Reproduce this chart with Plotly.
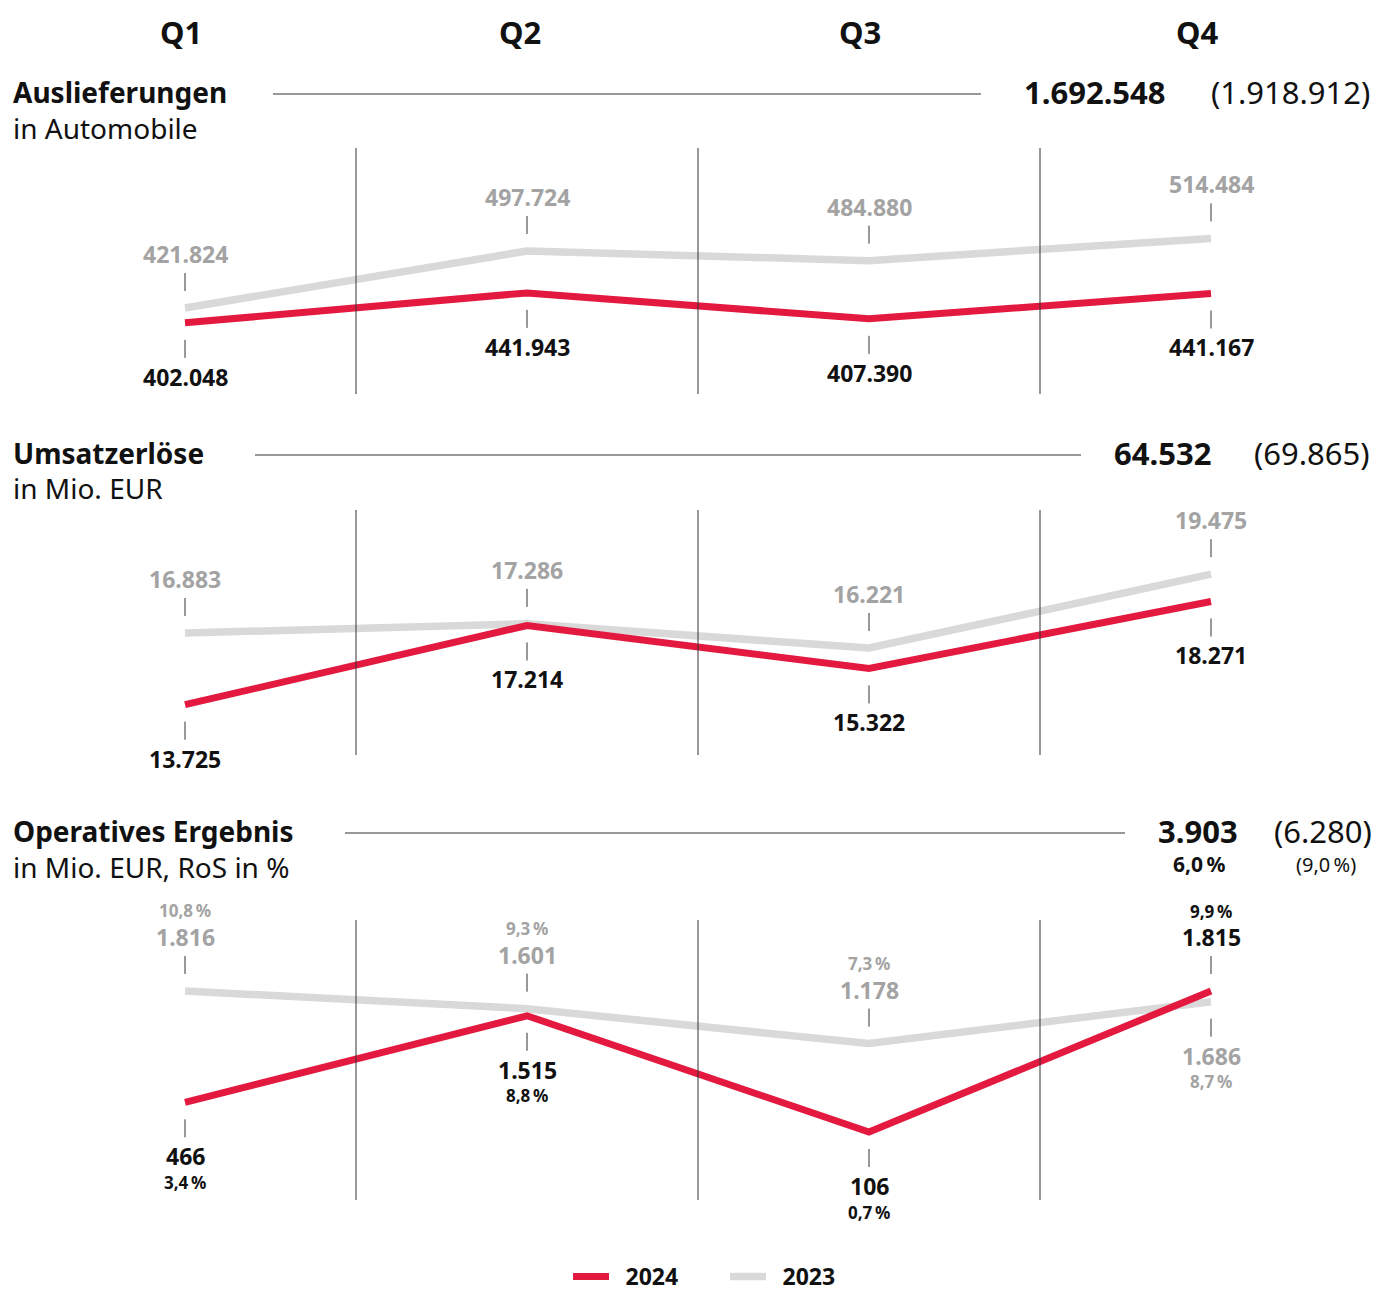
import plotly.graph_objects as go

W, H = 1376, 1298

# ---------------- data ----------------
quarters = ["Q1", "Q2", "Q3", "Q4"]

deliveries_2024 = [402048, 441943, 407390, 441167]
deliveries_2023 = [421824, 497724, 484880, 514484]
deliveries_total_2024 = 1692548
deliveries_total_2023 = 1918912

revenue_2024 = [13725, 17214, 15322, 18271]
revenue_2023 = [16883, 17286, 16221, 19475]
revenue_total_2024 = 64532
revenue_total_2023 = 69865

op_result_2024 = [466, 1515, 106, 1815]
op_result_2023 = [1816, 1601, 1178, 1686]
ros_2024 = [3.4, 8.8, 0.7, 9.9]
ros_2023 = [10.8, 9.3, 7.3, 8.7]
op_total_2024 = 3903
op_total_2023 = 6280
ros_total_2024 = 6.0
ros_total_2023 = 9.0

series_names = ["2024", "2023"]
panel_titles = ["Auslieferungen", "Umsatzerlöse", "Operatives Ergebnis"]
panel_units = ["in Automobile", "in Mio. EUR", "in Mio. EUR, RoS in %"]

# ---------------- style ----------------
RED = "#E4193F"
GREY = "#D9D9D9"
GREY_TXT = "#A3A3A3"
BLACK = "#111111"
LINE = "#333333"
FONT = "Noto Sans"


def de(v, dec=0):
    s = f"{v:,.{dec}f}"
    return s.replace(",", "X").replace(".", ",").replace("X", ".")


def pct(v):
    return de(v, 1) + "\u2009%"


def py(px):
    return 1 - px / H


def pxx(px):
    return px / W


panels = [
    dict(v24=deliveries_2024, v23=deliveries_2023, r24=None, r23=None,
         dom=(py(394), py(148)), rng=(307300, 634870),
         tot24=de(deliveries_total_2024), tot23="(" + de(deliveries_total_2023) + ")",
         head_y=92, unit_y=128, line_x=(273, 981), tot24_x=1168, tot23_x=1372),
    dict(v24=revenue_2024, v23=revenue_2023, r24=None, r23=None,
         dom=(py(755), py(510)), rng=(11509, 22302),
         tot24=de(revenue_total_2024), tot23="(" + de(revenue_total_2023) + ")",
         head_y=453, unit_y=488, line_x=(255, 1081), tot24_x=1213, tot23_x=1372),
    dict(v24=op_result_2024, v23=op_result_2023, r24=ros_2024, r23=ros_2023,
         dom=(py(1200), py(920)), rng=(-718, 2676),
         tot24=de(op_total_2024), tot23="(" + de(op_total_2023) + ")",
         head_y=831, unit_y=867, line_x=(345, 1125), tot24_x=1240, tot23_x=1374),
]

fig = go.Figure()
annotations = []
shapes = []
xs = list(range(len(quarters)))

for i, p in enumerate(panels):
    yname = "y" if i == 0 else f"y{i + 1}"
    fig.add_trace(go.Scatter(x=xs, y=p["v23"], mode="lines", name="\u2002" + series_names[1],
                             line=dict(color=GREY, width=7.5), yaxis=yname,
                             legendgroup="2023", showlegend=(i == 0), legendrank=2,
                             hoverinfo="skip"))
    fig.add_trace(go.Scatter(x=xs, y=p["v24"], mode="lines", name="\u2002" + series_names[0],
                             line=dict(color=RED, width=7), yaxis=yname,
                             legendgroup="2024", showlegend=(i == 0), legendrank=1,
                             hoverinfo="skip"))
    for k in range(len(quarters) - 1):
        shapes.append(dict(type="line", xref="x", yref=f"{yname} domain",
                           x0=k + 0.5, x1=k + 0.5, y0=0, y1=1,
                           line=dict(color=LINE, width=1)))
    for k in xs:
        v24, v23 = p["v24"][k], p["v23"][k]
        red_up = v24 > v23
        for val, ros, is24 in ((v24, p["r24"], True), (v23, p["r23"], False)):
            up = red_up if is24 else not red_up
            sgn = 1 if up else -1
            col = BLACK if is24 else GREY_TXT
            shapes.append(dict(type="line", xref="x", yref=yname, x0=k, x1=k,
                               ysizemode="pixel", yanchor=val,
                               y0=sgn * 17, y1=sgn * 35,
                               line=dict(color=LINE, width=1)))
            annotations.append(dict(x=k, y=val, xref="x", yref=yname, text=de(val),
                                    showarrow=False, yshift=sgn * 54,
                                    xanchor="center", yanchor="middle",
                                    font=dict(family=FONT, size=23, color=col, weight="bold")))
            if ros is not None:
                annotations.append(dict(x=k, y=val, xref="x", yref=yname, text=pct(ros[k]),
                                        showarrow=False, yshift=sgn * 80,
                                        xanchor="center", yanchor="middle",
                                        font=dict(family=FONT, size=17, color=col, weight="bold")))
    annotations.append(dict(x=pxx(11), y=py(p["head_y"]), xref="paper", yref="paper",
                            text=panel_titles[i], showarrow=False, xanchor="left", yanchor="middle",
                            font=dict(family=FONT, size=28, color=BLACK, weight="bold")))
    annotations.append(dict(x=pxx(11), y=py(p["unit_y"]), xref="paper", yref="paper",
                            text=panel_units[i], showarrow=False, xanchor="left", yanchor="middle",
                            font=dict(family=FONT, size=28, color=BLACK)))
    shapes.append(dict(type="line", xref="paper", yref="paper",
                       x0=pxx(p["line_x"][0]), x1=pxx(p["line_x"][1]),
                       y0=py(p["head_y"] + 2), y1=py(p["head_y"] + 2),
                       line=dict(color=LINE, width=1)))
    annotations.append(dict(x=pxx(p["tot24_x"]), y=py(p["head_y"]), xref="paper", yref="paper",
                            text=p["tot24"], showarrow=False, xanchor="right", yanchor="middle",
                            font=dict(family=FONT, size=31, color=BLACK, weight="bold")))
    annotations.append(dict(x=pxx(p["tot23_x"]), y=py(p["head_y"]), xref="paper", yref="paper",
                            text=p["tot23"], showarrow=False, xanchor="right", yanchor="middle",
                            font=dict(family=FONT, size=31, color=BLACK)))

annotations.append(dict(x=pxx(1199), y=py(864), xref="paper", yref="paper",
                        text=pct(ros_total_2024), showarrow=False, xanchor="center", yanchor="middle",
                        font=dict(family=FONT, size=21, color=BLACK, weight="bold")))
annotations.append(dict(x=pxx(1326), y=py(864), xref="paper", yref="paper",
                        text="(" + pct(ros_total_2023) + ")", showarrow=False, xanchor="center",
                        yanchor="middle", font=dict(family=FONT, size=20, color=BLACK)))

q_px = [181, 520, 860, 1197]
for q, qx in zip(quarters, q_px):
    annotations.append(dict(x=pxx(qx), y=py(32), xref="paper", yref="paper", text=q,
                            showarrow=False, xanchor="center", yanchor="middle",
                            font=dict(family=FONT, size=31, color=BLACK, weight="bold")))

unit = 342.0
x_left = 185 / unit
x_right = 3 + (W - 1211) / unit
layout = dict(
    width=W, height=H,
    margin=dict(l=0, r=0, t=0, b=0, autoexpand=False),
    paper_bgcolor="white", plot_bgcolor="white",
    xaxis=dict(domain=[0, 1], range=[-x_left, x_right], visible=False, fixedrange=True),
    annotations=annotations, shapes=shapes,
    showlegend=True,
    legend=dict(orientation="h", x=pxx(568), xanchor="left", y=0, yanchor="bottom",
                font=dict(family=FONT, size=23, color=BLACK, weight="bold"),
                itemwidth=36, entrywidth=106, bgcolor="rgba(0,0,0,0)"),
)
for i, p in enumerate(panels):
    key = "yaxis" if i == 0 else f"yaxis{i + 1}"
    layout[key] = dict(domain=list(p["dom"]), range=list(p["rng"]), visible=False,
                       anchor="x", fixedrange=True)

fig.update_layout(**layout)
fig.write_html("out.html", config={"displayModeBar": False},
               post_script="document.body.style.margin='0';document.body.style.overflow='hidden';")
